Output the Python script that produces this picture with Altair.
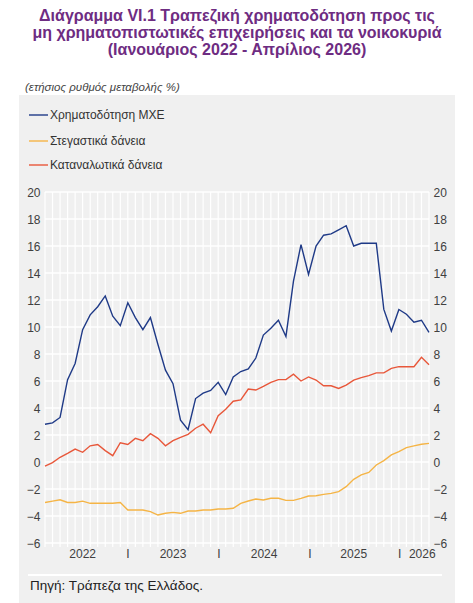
import altair as alt
import pandas as pd

# Monthly data, Jan 2022 - Apr 2026 (52 months), annual % change
months = list(range(52))

nfc = [2.8, 2.9, 3.3, 6.1, 7.3, 9.8, 10.9, 11.5, 12.3, 10.8, 10.1, 11.8,
       10.7, 9.8, 10.7, 8.7, 6.8, 5.8, 3.1, 2.4, 4.7, 5.1, 5.3, 5.9,
       5.0, 6.3, 6.7, 6.9, 7.7, 9.4, 9.9, 10.5, 9.3, 13.4, 16.1, 13.9,
       16.0, 16.8, 16.9, 17.2, 17.5, 16.0, 16.2, 16.2, 16.2, 11.3, 9.7, 11.3,
       10.95, 10.35, 10.5, 9.6]

housing = [-3.0, -2.9, -2.8, -3.0, -3.0, -2.9, -3.06, -3.06, -3.06, -3.06, -3.0, -3.56,
           -3.56, -3.56, -3.68, -3.93, -3.8, -3.73, -3.8, -3.63, -3.63, -3.56, -3.56, -3.48,
           -3.48, -3.43, -3.06, -2.89, -2.74, -2.81, -2.69, -2.69, -2.84, -2.84, -2.69, -2.52,
           -2.5, -2.4, -2.32, -2.2, -1.83, -1.28, -0.96, -0.77, -0.22, 0.1, 0.52, 0.77,
           1.06, 1.19, 1.31, 1.38]

consumer = [-0.3, -0.05, 0.35, 0.64, 0.96, 0.72, 1.2, 1.3, 0.84, 0.47, 1.43, 1.3,
            1.75, 1.58, 2.1, 1.75, 1.2, 1.58, 1.83, 2.05, 2.5, 2.8, 2.17, 3.43,
            3.9, 4.5, 4.6, 5.4, 5.33, 5.6, 5.9, 6.1, 6.1, 6.5, 6.0, 6.3,
            6.07, 5.65, 5.65, 5.45, 5.7, 6.07, 6.25, 6.4, 6.6, 6.6, 6.94, 7.06,
            7.06, 7.06, 7.75, 7.2]

series_names = ["Χρηματοδότηση ΜΧΕ", "Στεγαστικά δάνεια", "Καταναλωτικά δάνεια"]
series_colors = ["#1F3A87", "#F5B445", "#E8573A"]

x_label_pos = [5.0, 11.0, 17.0, 23.1, 29.1, 35.2, 41.0, 47.1, 50.1]
x_label_text = ["2022", "I", "2023", "I", "2024", "I", "2025", "I", "2026"]

y_ticks = list(range(-6, 21, 2))

title_lines = ["Διάγραμμα VI.1 Τραπεζική χρηματοδότηση προς τις",
               "μη χρηματοπιστωτικές επιχειρήσεις και τα νοικοκυριά",
               "(Ιανουάριος 2022 - Απρίλιος 2026)"]
subtitle = "(ετήσιος ρυθμός μεταβολής %)"
source = "Πηγή: Τράπεζα της Ελλάδος."

FONT = "Liberation Sans"
W, H = 384, 351

rows = []
for name, vals in zip(series_names, [nfc, housing, consumer]):
    for m, v in zip(months, vals):
        rows.append({"series": name, "month": m, "value": v})
df = pd.DataFrame(rows)

xscale = alt.Scale(domain=[0, 51], nice=False, zero=False)
yscale = alt.Scale(domain=[-6, 20], nice=False, zero=False)

one = pd.DataFrame({"a": [0]})

# background panel
panel = alt.Chart(one).mark_rect(color="#F0F0F0").encode(
    x=alt.value(-26), x2=alt.value(410), y=alt.value(-97), y2=alt.value(411)
)

sep = alt.Chart(one).mark_rule(color="white", strokeWidth=2).encode(
    x=alt.value(-17), x2=alt.value(397), y=alt.value(383)
)

# grid lines
vgrid = alt.Chart(pd.DataFrame({"m": months})).mark_rule(color="white", strokeWidth=1.2).encode(
    x=alt.X("m:Q", scale=xscale, axis=None), y=alt.value(0), y2=alt.value(H + 4)
)
hgrid = alt.Chart(pd.DataFrame({"v": y_ticks})).mark_rule(color="white", strokeWidth=1.5).encode(
    y=alt.Y("v:Q", scale=yscale, axis=None), x=alt.value(0), x2=alt.value(W)
)

lines = alt.Chart(df).mark_line(strokeWidth=1.4).encode(
    x=alt.X("month:Q", scale=xscale, axis=None),
    y=alt.Y("value:Q", scale=yscale,
            axis=alt.Axis(values=y_ticks, orient="left", grid=False, ticks=False,
                          domain=False, title=None, zindex=1,
                          labelFont=FONT, labelFontSize=12, labelColor="#404040",
                          labelPadding=5)),
    color=alt.Color("series:N", scale=alt.Scale(domain=series_names, range=series_colors),
                    legend=None),
    detail="series:N",
)

right_axis = alt.Chart(df).mark_line(opacity=0).encode(
    x=alt.X("month:Q", scale=xscale, axis=None),
    y=alt.Y("value:Q", scale=yscale,
            axis=alt.Axis(values=y_ticks, orient="right", grid=False, ticks=False,
                          domain=False, title=None, zindex=1, labelFont=FONT,
                          labelFontSize=12, labelColor="#404040", labelPadding=4)),
    detail="series:N",
)

xlab = alt.Chart(pd.DataFrame({"pos": x_label_pos, "txt": x_label_text})).mark_text(
    font=FONT, fontSize=12, color="#404040", baseline="middle", align="center"
).encode(x=alt.X("pos:Q", scale=xscale, axis=None), y=alt.value(362), text="txt:N")

# legend
leg_y = [-77, -51, -27]
legend_layers = []
for name, col, ly in zip(series_names, series_colors, leg_y):
    legend_layers.append(
        alt.Chart(one).mark_rule(color=col, strokeWidth=1.4).encode(
            x=alt.value(-16), x2=alt.value(3), y=alt.value(ly))
    )
    legend_layers.append(
        alt.Chart(pd.DataFrame({"t": [name]})).mark_text(
            font=FONT, fontSize=12, color="#333333", align="left", baseline="middle"
        ).encode(x=alt.value(5), y=alt.value(ly), text="t:N")
    )

title_layers = []
for i, line in enumerate(title_lines):
    title_layers.append(
        alt.Chart(pd.DataFrame({"t": [line]})).mark_text(
            font=FONT, fontSize=16, fontWeight="bold", color="#6E2C82",
            align="center", baseline="middle"
        ).encode(x=alt.value(192), y=alt.value(-176 + 17 * i), text="t:N")
    )

sub = alt.Chart(pd.DataFrame({"t": [subtitle]})).mark_text(
    font=FONT, fontSize=11.5, fontStyle="italic", color="#444444", align="left", baseline="middle"
).encode(x=alt.value(-20), y=alt.value(-104), text="t:N")

src = alt.Chart(pd.DataFrame({"t": [source]})).mark_text(
    font=FONT, fontSize=13.5, color="#222222", align="left", baseline="middle"
).encode(x=alt.value(-15), y=alt.value(394), text="t:N")

main = alt.layer(lines, right_axis).resolve_scale(y="independent")

chart = alt.layer(
    panel, sep, vgrid, hgrid, main, xlab, sub, src, *legend_layers, *title_layers
).resolve_scale(y="independent").properties(
    width=W, height=H,
    padding={"left": 45, "top": 192, "right": 44, "bottom": 60},
    autosize=alt.AutoSizeParams(type="none"),
    background="white",
).configure_view(stroke=None, fill=None)

chart.save("out.html", embed_options={"renderer": "svg", "actions": False})
